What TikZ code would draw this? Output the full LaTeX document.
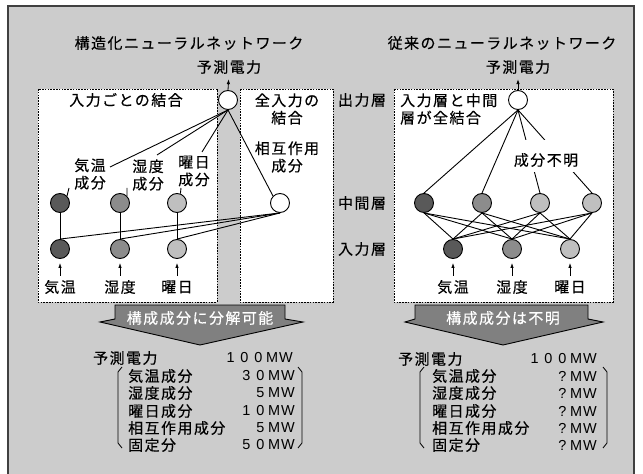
\documentclass[tikz,border=0pt]{standalone}
\usepackage{fontspec}
\setmainfont{Noto Sans CJK JP}[LetterSpace=10, FakeBold=0.4]
\newfontfamily\lat{Liberation Sans}
\usetikzlibrary{arrows.meta}
\definecolor{bg}{HTML}{CCCCCC}
\definecolor{ndark}{HTML}{595959}
\definecolor{nmid}{HTML}{8C8C8C}
\definecolor{nlight}{HTML}{BFBFBF}
\definecolor{arfill}{HTML}{808080}
\definecolor{frame}{HTML}{404040}
\newcommand\hw[1]{\makebox[13.8bp]{\lat\fontsize{14.5}{17}\selectfont #1}}
\tikzset{
  txt/.style={font=\fontsize{15}{17.5}\selectfont, inner sep=0pt, align=center},
  nd/.style={circle, draw, line width=0.9bp, minimum size=19bp, inner sep=0pt},
  ndd/.style={nd, fill=ndark},
  ndm/.style={nd, fill=nmid},
  ndl/.style={nd, fill=nlight},
  ndw/.style={nd, fill=white},
  ln/.style={line width=0.9bp},
  ar/.style={-{Latex[length=5bp,width=3.5bp]}, line width=0.8bp},
  dbox/.style={draw, fill=white, dash pattern=on 1.6bp off 1.2bp, line width=0.9bp},
  bigarrow/.style={draw, fill=arfill, line width=0.9bp},
  brk/.style={line width=0.8bp},
}
\begin{document}
\begin{tikzpicture}[x=1bp, y=-1bp]
\useasboundingbox (0,0) rectangle (643,474);
% frame
\fill[bg] (8,6) rectangle (634,474);
\draw[frame, line width=1.6bp] (8,474) -- (8,6) -- (634,6) -- (634,474);

% dashed boxes
\draw[dbox] (38,89) rectangle (217,302);
\draw[dbox] (240,89) rectangle (333,302);
\draw[dbox] (394,89) rectangle (613,302);

% titles
\node[txt] (titleL) at (189,43) {構造化ニューラルネットワーク};
\node[txt] (titleR) at (502,43) {従来のニューラルネットワーク};
\node[txt] (pL) at (229,67) {予測電力};
\node[txt] (pR) at (518,67) {予測電力};

% layer labels
\node[txt] (lOut) at (362,100) {出力層};
\node[txt] (lMid) at (362,203) {中間層};
\node[txt] (lIn) at (362,249) {入力層};

% left network nodes
\node[ndw] (outL) at (228,100) {};
\node[ndd] (hA) at (60,203) {};
\node[ndm] (hB) at (120,203) {};
\node[ndl] (hC) at (177,203) {};
\node[ndw] (inter) at (280,203) {};
\node[ndd] (iA) at (60,249) {};
\node[ndm] (iB) at (120,249) {};
\node[ndl] (iC) at (177,249) {};

% left labels
\node[txt] (bxL1) at (126,100) {入力ごとの結合};
\node[txt] (bxL2) at (287,109) {全入力の\\結合};
\node[txt] (lbI) at (287,157) {相互作用\\成分};
\node[txt] (lbA) at (90,174) {気温\\成分};
\node[txt] (lbB) at (148,175) {湿度\\成分};
\node[txt] (lbC) at (194,171) {曜日\\成分};
\node[txt] (inA) at (60,287) {気温};
\node[txt] (inB) at (120,287) {湿度};
\node[txt] (inC) at (177,287) {曜日};

\coordinate (eA) at (110,167);
\coordinate (eB) at (157,155);
\coordinate (eC) at (202,152);
\coordinate (tA) at (69,188);
\coordinate (tB) at (127,188);
\coordinate (tC) at (181,188);

% left connectors
\draw[ln] (outL.south) -- (eA);
\draw[ln] (outL.south) -- (eB);
\draw[ln] (outL.south) -- (eC);
\draw[ln] (outL.south) -- (inter.north west);
\draw[ln] (hA.north east) -- (tA);
\draw[ln] (hB.north east) -- (tB);
\draw[ln] (hC.70) -- (tC);
\draw[ln] (hA.south) -- (iA.north);
\draw[ln] (hB.south) -- (iB.north);
\draw[ln] (hC.south) -- (iC.north);
\draw[ln] (inter.south) -- (iA.north);
\draw[ln] (inter.south) -- (iB.north);
\draw[ln] (inter.south) -- (iC.north);
\draw[ar, shorten >=5bp] (outL.north) -- (pL.south);
\draw[ar, shorten <=4bp, shorten >=4bp] (inA.north) -- (iA.south);
\draw[ar, shorten <=4bp, shorten >=4bp] (inB.north) -- (iB.south);
\draw[ar, shorten <=4bp, shorten >=4bp] (inC.north) -- (iC.south);

% right network nodes
\node[ndw] (outR) at (518,100) {};
\node[ndd] (hR1) at (424,203) {};
\node[ndm] (hR2) at (482,203) {};
\node[ndl] (hR3) at (540,203) {};
\node[ndl] (hR4) at (592,203) {};
\node[ndd] (iR1) at (453,249) {};
\node[ndm] (iR2) at (512,249) {};
\node[ndl] (iR3) at (570,249) {};
\node[txt, anchor=west, align=left] (bxR) at (400,109) {入力層と中間\\層が全結合};
\node[txt] (inR1) at (453,287) {気温};
\node[txt] (inR2) at (512,287) {湿度};
\node[txt] (inR3) at (570,287) {曜日};

% right connectors
\foreach \h in {hR1,hR2,hR3,hR4}{
  \draw[ln] (outR.south) -- (\h.north);
  \foreach \i in {iR1,iR2,iR3}{
    \draw[ln] (\h.south) -- (\i.north);
  }
}
\node[fill=white, minimum width=74bp, minimum height=32bp, inner sep=0pt] (mask) at (547,156) {};
\node[txt] (unk) at (546,160) {成分不明};
\draw[ar, shorten >=5bp] (outR.north) -- (pR.south);
\draw[ar, shorten <=4bp, shorten >=4bp] (inR1.north) -- (iR1.south);
\draw[ar, shorten <=4bp, shorten >=4bp] (inR2.north) -- (iR2.south);
\draw[ar, shorten <=4bp, shorten >=4bp] (inR3.north) -- (iR3.south);

% big arrows
\draw[bigarrow] (115,305) -- (285,305) -- (285,319) -- (303,322) -- (200,345) -- (100,322) -- (115,319) -- cycle;
\node[txt, text=white] (decL) at (200,318) {構成成分に分解可能};
\draw[bigarrow] (415,305) -- (588,305) -- (588,319) -- (603,322) -- (503,345) -- (405,322) -- (415,319) -- cycle;
\node[txt, text=white] (decR) at (503,318) {構成成分は不明};

% left table
\node[txt, anchor=west] (tLp) at (93,358) {予測電力};
\node[txt, anchor=east] (tLpv) at (293,358) {\hw1\hw0\hw0\hw M\hw W};
\node[txt, anchor=west] (tL1) at (128,376) {気温成分};
\node[txt, anchor=west] (tL2) at (128,393) {湿度成分};
\node[txt, anchor=west] (tL3) at (128,411) {曜日成分};
\node[txt, anchor=west] (tL4) at (128,428) {相互作用成分};
\node[txt, anchor=west] (tL5) at (128,445) {固定分};
\node[txt, anchor=east] (vL1) at (295,376) {\hw3\hw0\hw M\hw W};
\node[txt, anchor=east] (vL2) at (295,393) {\hw5\hw M\hw W};
\node[txt, anchor=east] (vL3) at (295,411) {\hw1\hw0\hw M\hw W};
\node[txt, anchor=east] (vL4) at (295,428) {\hw5\hw M\hw W};
\node[txt, anchor=east] (vL5) at (295,445) {\hw5\hw0\hw M\hw W};
\draw[brk] (122,367) -- (118,372) -- (118,443) -- (122,448);
\draw[brk] (298,367) -- (302,372) -- (302,443) -- (298,448);

% right table
\node[txt, anchor=west] (tRp) at (398,359) {予測電力};
\node[txt, anchor=east] (tRpv) at (597,359) {\hw1\hw0\hw0\hw M\hw W};
\node[txt, anchor=west] (tR1) at (432,376) {気温成分};
\node[txt, anchor=west] (tR2) at (432,393) {湿度成分};
\node[txt, anchor=west] (tR3) at (432,411) {曜日成分};
\node[txt, anchor=west] (tR4) at (432,428) {相互作用成分};
\node[txt, anchor=west] (tR5) at (432,445) {固定分};
\node[txt, anchor=east] (vR1) at (597,376) {\hw?\hw M\hw W};
\node[txt, anchor=east] (vR2) at (597,393) {\hw?\hw M\hw W};
\node[txt, anchor=east] (vR3) at (597,411) {\hw?\hw M\hw W};
\node[txt, anchor=east] (vR4) at (597,428) {\hw?\hw M\hw W};
\node[txt, anchor=east] (vR5) at (597,445) {\hw?\hw M\hw W};
\draw[brk] (424,367) -- (420,372) -- (420,443) -- (424,448);
\draw[brk] (603,367) -- (607,372) -- (607,443) -- (603,448);
\end{tikzpicture}
\end{document}
